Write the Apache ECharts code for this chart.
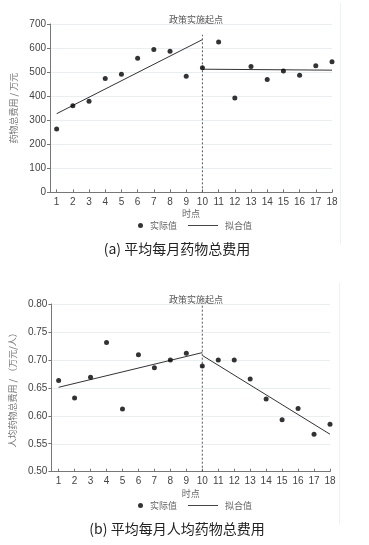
<!DOCTYPE html>
<html>
<head>
<meta charset="utf-8">
<script src="https://cdn.jsdelivr.net/npm/echarts@6/dist/echarts.min.js"></script>
<style>
  html, body { margin: 0; padding: 0; background: #fff; }
  #main { width: 369px; height: 545px; }
</style>
</head>
<body>
<div id="main"></div>
<script>
// 时点
var months = [1, 2, 3, 4, 5, 6, 7, 8, 9, 10, 11, 12, 13, 14, 15, 16, 17, 18]
var policyPoint = 10

// (a) 平均每月药物总费用 (万元)
var costA = [263, 360, 379, 473, 491, 558, 594, 587, 483, 518, 625, 392, 523, 469, 504, 487, 526, 543]
var fitAPre = [[1, 327], [10, 635]]
var fitAPost = [[10, 512], [18, 508]]
var yTicksA = [0, 700, 100]

// (b) 平均每月人均药物总费用 (万元/人)
var costB = [0.663, 0.632, 0.669, 0.731, 0.612, 0.709, 0.686, 0.700, 0.712, 0.689, 0.700, 0.700, 0.666, 0.630, 0.593, 0.613, 0.567, 0.585]
var fitBPre = [[1, 0.651], [10, 0.713]]
var fitBPost = [[10, 0.708], [18, 0.567]]
var yTicksB = [0.5, 0.8, 0.05]

var latin = 'Liberation Sans'
var cjk = 'Noto Sans CJK SC'

function pairs(xs, ys) {
  return xs.map(function (x, i) { return [x, ys[i]] })
}

function xAxisOpt(gridIndex, min) {
  return {
    type: 'value',
    gridIndex: gridIndex,
    min: min,
    max: 18,
    name: '时点',
    nameLocation: 'middle',
    nameGap: 17,
    nameTextStyle: { fontFamily: cjk, fontSize: 9, color: '#666' },
    splitLine: { show: false },
    axisLine: { lineStyle: { color: '#777', width: 1 } },
    axisTick: { inside: true, length: 3, customValues: months, lineStyle: { color: '#777' } },
    axisLabel: { customValues: months, margin: 5, fontFamily: latin, fontSize: 10, color: '#444' }
  }
}

function yAxisOpt(gridIndex, ticks, name, digits) {
  return {
    type: 'value',
    gridIndex: gridIndex,
    min: ticks[0],
    max: ticks[1],
    interval: ticks[2],
    name: name,
    nameLocation: 'middle',
    nameGap: 28,
    nameTextStyle: { fontFamily: cjk, fontSize: 9, color: '#777' },
    axisLine: { show: true, lineStyle: { color: '#777', width: 1 } },
    axisTick: { show: true, length: 3, lineStyle: { color: '#777' } },
    axisLabel: {
      margin: 4, fontFamily: latin, fontSize: 10, color: '#444',
      formatter: function (v) { return v.toFixed(digits) }
    },
    splitLine: { show: true, lineStyle: { color: '#e8eff2', width: 1 } }
  }
}

function seriesFor(idx, actual, pre, post, top, bottom) {
  return [
    {
      name: '实际值', type: 'scatter', xAxisIndex: idx, yAxisIndex: idx,
      symbolSize: 5, itemStyle: { color: '#000' },
      data: pairs(months, actual), z: 5
    },
    {
      name: '拟合值', type: 'line', xAxisIndex: idx, yAxisIndex: idx,
      symbol: 'none', itemStyle: { color: '#333' },
      lineStyle: { color: '#333', width: 1 }, data: pre
    },
    {
      name: '拟合值', type: 'line', xAxisIndex: idx, yAxisIndex: idx,
      symbol: 'none', itemStyle: { color: '#333' },
      lineStyle: { color: '#333', width: 1 }, data: post
    },
    {
      name: '政策实施起点', type: 'line', xAxisIndex: idx, yAxisIndex: idx,
      symbol: 'none', silent: true,
      lineStyle: { color: '#555', width: 1, type: [2, 2] },
      data: [[policyPoint, bottom], [policyPoint, top]]
    }
  ]
}

function legendPair(top) {
  return [
    {
      data: [{ name: '实际值', icon: 'circle' }],
      left: 133, top: top, itemWidth: 5, itemHeight: 5, itemGap: 0,
      textStyle: { fontFamily: cjk, fontSize: 9, color: '#666', padding: [0, 0, 0, 2] }
    },
    {
      data: [{ name: '拟合值', icon: 'rect', itemStyle: { color: '#444' } }],
      left: 183, top: top, itemWidth: 30, itemHeight: 1,
      textStyle: { fontFamily: cjk, fontSize: 9, color: '#666', padding: [0, 0, 0, 2] }
    }
  ]
}

var chart = echarts.init(document.getElementById('main'))

chart.setOption({
  backgroundColor: '#fff',
  animation: false,
  title: [
    { text: '政策实施起点', left: 191, top: 10, textAlign: 'center',
      textStyle: { fontFamily: cjk, fontSize: 9, fontWeight: 'normal', color: '#555' } },
    { text: '政策实施起点', left: 191, top: 290, textAlign: 'center',
      textStyle: { fontFamily: cjk, fontSize: 9, fontWeight: 'normal', color: '#555' } },
    { text: '(a) 平均每月药物总费用', left: 172, top: 237, textAlign: 'center',
      textStyle: { fontFamily: cjk, fontSize: 14, fontWeight: 'normal', color: '#222' } },
    { text: '(b) 平均每月人均药物总费用', left: 172, top: 517, textAlign: 'center',
      textStyle: { fontFamily: cjk, fontSize: 14, fontWeight: 'normal', color: '#222' } }
  ],
  legend: legendPair(216).concat(legendPair(496)),
  grid: [
    { left: 50, right: 37, top: 24, height: 168.3 },
    { left: 50, right: 39, top: 304, height: 167.7 }
  ],
  xAxis: [xAxisOpt(0, 0.59), xAxisOpt(1, 0.545)],
  yAxis: [
    yAxisOpt(0, yTicksA, '药物总费用 / 万元', 0),
    yAxisOpt(1, yTicksB, '人均药物总费用 / （万元/人）', 2)
  ],
  graphic: [
    { type: 'line', shape: { x1: 340.5, y1: 3, x2: 340.5, y2: 244 },
      style: { stroke: '#eef1f3', lineWidth: 1 }, silent: true },
    { type: 'line', shape: { x1: 339.5, y1: 283, x2: 339.5, y2: 524 },
      style: { stroke: '#eef1f3', lineWidth: 1 }, silent: true }
  ],
  series: seriesFor(0, costA, fitAPre, fitAPost, 655, 0)
    .concat(seriesFor(1, costB, fitBPre, fitBPost, 0.8, 0.5))
})
</script>
</body>
</html>
